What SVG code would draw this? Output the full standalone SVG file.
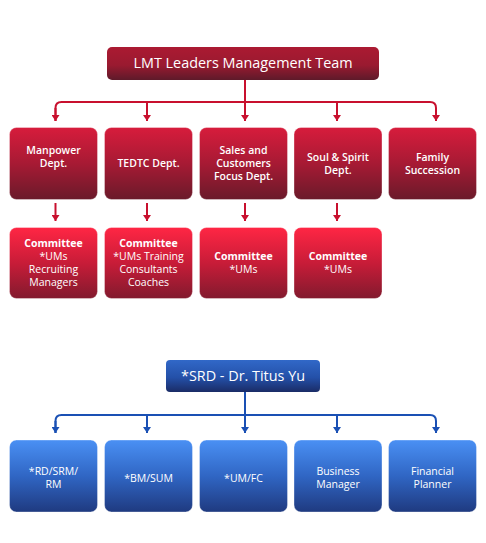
<svg xmlns="http://www.w3.org/2000/svg" width="486" height="543" viewBox="0 0 486 543">
<defs>
<linearGradient id="gHead" x1="0" y1="0" x2="0" y2="1"><stop offset="0" stop-color="#ab1a32"/><stop offset="0.55" stop-color="#9a1a30"/><stop offset="1" stop-color="#5e1a2a"/></linearGradient>
<linearGradient id="gDept" x1="0" y1="0" x2="0" y2="1"><stop offset="0" stop-color="#d71c3c"/><stop offset="0.5" stop-color="#a71a34"/><stop offset="1" stop-color="#6a1a2a"/></linearGradient>
<linearGradient id="gComm" x1="0" y1="0" x2="0" y2="1"><stop offset="0" stop-color="#ff2644"/><stop offset="0.5" stop-color="#c81c38"/><stop offset="1" stop-color="#821a2e"/></linearGradient>
<linearGradient id="gBHead" x1="0" y1="0" x2="0" y2="1"><stop offset="0" stop-color="#3168c8"/><stop offset="0.55" stop-color="#2450a8"/><stop offset="1" stop-color="#1a2c66"/></linearGradient>
<linearGradient id="gBlue" x1="0" y1="0" x2="0" y2="1"><stop offset="0" stop-color="#4a90f4"/><stop offset="0.5" stop-color="#3066c4"/><stop offset="1" stop-color="#1f3a80"/></linearGradient>
<marker id="aR" markerWidth="8" markerHeight="8" refX="4" refY="6" markerUnits="userSpaceOnUse" viewBox="0 0 8 8"><path d="M0,0 L8,0 L4,6 Z" fill="#c8102e"/></marker>
<marker id="aB" markerWidth="8" markerHeight="8" refX="4" refY="6" markerUnits="userSpaceOnUse" viewBox="0 0 8 8"><path d="M0,0 L8,0 L4,6 Z" fill="#1a50b4"/></marker>
</defs>
<style>
text{font-family:"Open Sans","Lato","Liberation Sans",sans-serif;fill:#fff;text-anchor:middle}
.h{font-size:14.4px;font-weight:500}
.d{font-size:10.5px;font-weight:600}
.c{font-size:10.5px}
.b{font-weight:700}
.r{stroke:#c8102e;stroke-width:2;fill:none}
.bl{stroke:#1a50b4;stroke-width:2;fill:none}
.box{stroke:#ffffff;stroke-opacity:0.35;stroke-width:1}
</style>
<g id="connectors">
<path class="r" d="M245,80 V102"/>
<path class="r" d="M55.5,121 V108 Q55.5,102 61.5,102 H430 Q436,102 436,108 V121" marker-end="url(#aR)"/>
<path class="r" d="M55.5,108 V121" marker-end="url(#aR)"/>
<path class="r" d="M147,102 V121" marker-end="url(#aR)"/>
<path class="r" d="M245,102 V121" marker-end="url(#aR)"/>
<path class="r" d="M337,102 V121" marker-end="url(#aR)"/>
<path class="r" d="M55.5,203 V221" marker-end="url(#aR)"/>
<path class="r" d="M147,203 V221" marker-end="url(#aR)"/>
<path class="r" d="M245,203 V221" marker-end="url(#aR)"/>
<path class="r" d="M337,203 V221" marker-end="url(#aR)"/>
<path class="bl" d="M245,392 V415"/>
<path class="bl" d="M55.5,433 V421 Q55.5,415 61.5,415 H430 Q436,415 436,421 V433" marker-end="url(#aB)"/>
<path class="bl" d="M55.5,421 V433" marker-end="url(#aB)"/>
<path class="bl" d="M147,415 V433" marker-end="url(#aB)"/>
<path class="bl" d="M245,415 V433" marker-end="url(#aB)"/>
<path class="bl" d="M337,415 V433" marker-end="url(#aB)"/>
</g>
<g id="lmt"><rect x="107" y="47" width="272" height="33" rx="5" fill="url(#gHead)"/><text class="h" x="243" y="68">LMT Leaders Management Team</text></g>
<g id="manpower"><rect class="box" x="9.5" y="127.5" width="88" height="72" rx="7" fill="url(#gDept)"/><text class="d" x="53.5" y="154">Manpower</text><text class="d" x="53.5" y="167">Dept.</text></g>
<g id="tedtc"><rect class="box" x="104.5" y="127.5" width="88" height="72" rx="7" fill="url(#gDept)"/><text class="d" x="148.5" y="167">TEDTC Dept.</text></g>
<g id="sales"><rect class="box" x="199.5" y="127.5" width="88" height="72" rx="7" fill="url(#gDept)"/><text class="d" x="243.5" y="154">Sales and</text><text class="d" x="243.5" y="167">Customers</text><text class="d" x="243.5" y="180">Focus Dept.</text></g>
<g id="soul"><rect class="box" x="294" y="127.5" width="88" height="72" rx="7" fill="url(#gDept)"/><text class="d" x="338" y="160.5">Soul &amp; Spirit</text><text class="d" x="338" y="173.5">Dept.</text></g>
<g id="family"><rect class="box" x="388.5" y="127.5" width="88" height="72" rx="7" fill="url(#gDept)"/><text class="d" x="432.5" y="160.5">Family</text><text class="d" x="432.5" y="173.5">Succession</text></g>
<g id="comm1"><rect class="box" x="9.5" y="227.5" width="88" height="71" rx="7" fill="url(#gComm)"/><text class="c b" x="53.5" y="247">Committee</text><text class="c" x="53.5" y="260">*UMs</text><text class="c" x="53.5" y="273">Recruiting</text><text class="c" x="53.5" y="286">Managers</text></g>
<g id="comm2"><rect class="box" x="104.5" y="227.5" width="88" height="71" rx="7" fill="url(#gComm)"/><text class="c b" x="148.5" y="247">Committee</text><text class="c" x="148.5" y="260">*UMs Training</text><text class="c" x="148.5" y="273">Consultants</text><text class="c" x="148.5" y="286">Coaches</text></g>
<g id="comm3"><rect class="box" x="199.5" y="227.5" width="88" height="71" rx="7" fill="url(#gComm)"/><text class="c b" x="243.5" y="260">Committee</text><text class="c" x="243.5" y="273">*UMs</text></g>
<g id="comm4"><rect class="box" x="294" y="227.5" width="88" height="71" rx="7" fill="url(#gComm)"/><text class="c b" x="338" y="260">Committee</text><text class="c" x="338" y="273">*UMs</text></g>
<g id="srd"><rect x="166" y="360" width="154" height="32" rx="4" fill="url(#gBHead)"/><text class="h" x="243" y="381">*SRD - Dr. Titus Yu</text></g>
<g id="rd"><rect class="box" x="9.5" y="440" width="88" height="72" rx="7" fill="url(#gBlue)"/><text class="c" x="53.5" y="474.5">*RD/SRM/</text><text class="c" x="53.5" y="487.5">RM</text></g>
<g id="bm"><rect class="box" x="104.5" y="440" width="88" height="72" rx="7" fill="url(#gBlue)"/><text class="c" x="148.5" y="481.5">*BM/SUM</text></g>
<g id="um"><rect class="box" x="199.5" y="440" width="88" height="72" rx="7" fill="url(#gBlue)"/><text class="c" x="243.5" y="481.5">*UM/FC</text></g>
<g id="business"><rect class="box" x="294" y="440" width="88" height="72" rx="7" fill="url(#gBlue)"/><text class="c" x="338" y="474.5">Business</text><text class="c" x="338" y="487.5">Manager</text></g>
<g id="planner"><rect class="box" x="388.5" y="440" width="88" height="72" rx="7" fill="url(#gBlue)"/><text class="c" x="432.5" y="474.5">Financial</text><text class="c" x="432.5" y="487.5">Planner</text></g>
</svg>
